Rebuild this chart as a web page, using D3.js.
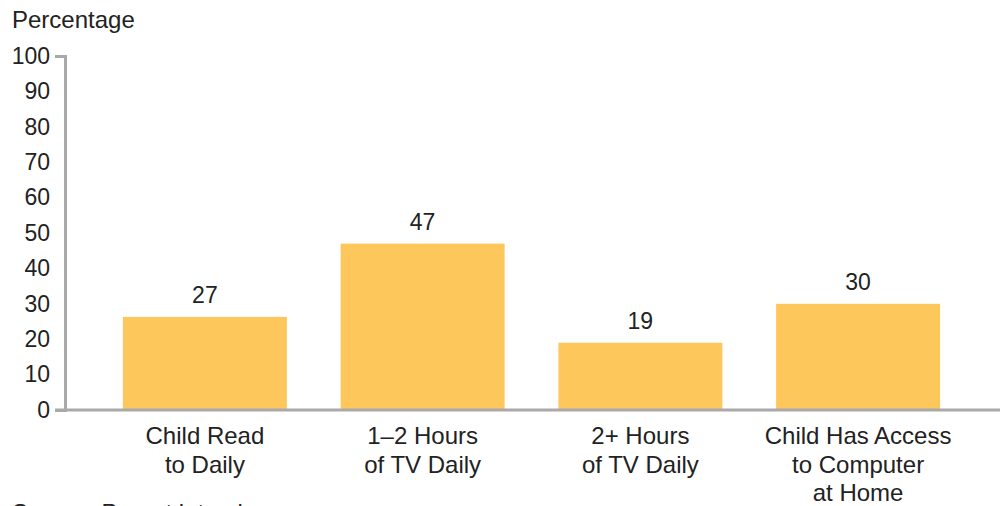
<!DOCTYPE html>
<html>
<head>
<meta charset="utf-8">
<script src="https://cdn.jsdelivr.net/npm/d3@7"></script>
<style>
  body { margin: 0; background: #fff; }
  text { font-family: "Liberation Sans", Arial, sans-serif; fill: #222; }
</style>
</head>
<body>
<script>
var categories = [
  ["Child Read", "to Daily"],
  ["1\u20132 Hours", "of TV Daily"],
  ["2+ Hours", "of TV Daily"],
  ["Child Has Access", "to Computer", "at Home"]
];
var values = [26.3, 47, 19, 30];
var valueLabels = ["27", "47", "19", "30"];
var yTicks = [0, 10, 20, 30, 40, 50, 60, 70, 80, 90, 100];

var width = 1000,
    height = 506,
    barColor = "#fdc75b",
    axisColor = "#a9a9ab";

var svg = d3.select("body").append("svg")
    .attr("width", width)
    .attr("height", height);

var xScale = d3.scaleBand()
    .domain(d3.range(categories.length))
    .range([65, 998])
    .paddingInner(0.247)
    .paddingOuter(0.266);

var yScale = d3.scaleLinear()
    .domain([0, 100])
    .range([410, 56]);

// y axis: no inner ticks, outer ticks at 0 and 100
var yAxis = svg.append("g")
    .attr("transform", "translate(65,0)")
    .call(d3.axisLeft(yScale).tickValues(yTicks).tickSizeInner(0).tickSizeOuter(10).tickPadding(15));
yAxis.select(".domain").attr("stroke", axisColor).attr("stroke-width", 3);
yAxis.selectAll("text")
    .style("font-size", "23px")
    .attr("fill", "#222")
    .attr("font-family", null);

// bars
svg.selectAll("rect.bar")
    .data(values)
    .enter().append("rect")
    .attr("class", "bar")
    .attr("x", function(d, i) { return xScale(i); })
    .attr("y", function(d) { return yScale(d); })
    .attr("width", xScale.bandwidth())
    .attr("height", function(d) { return yScale(0) - yScale(d); })
    .attr("fill", barColor);

// baseline
svg.append("line")
    .attr("x1", 55).attr("x2", width)
    .attr("y1", yScale(0)).attr("y2", yScale(0))
    .attr("stroke", axisColor)
    .attr("stroke-width", 3);

// value labels
svg.selectAll("text.val")
    .data(values)
    .enter().append("text")
    .attr("class", "val")
    .attr("x", function(d, i) { return xScale(i) + xScale.bandwidth() / 2; })
    .attr("y", function(d) { return yScale(d) - 14; })
    .attr("text-anchor", "middle")
    .style("font-size", "23px")
    .text(function(d, i) { return valueLabels[i]; });

// category labels
var cat = svg.selectAll("text.cat")
    .data(categories)
    .enter().append("text")
    .attr("class", "cat")
    .attr("text-anchor", "middle")
    .style("font-size", "24px")
    .attr("transform", function(d, i) {
      return "translate(" + (xScale(i) + xScale.bandwidth() / 2) + ",444)";
    });
cat.selectAll("tspan")
    .data(function(d) { return d; })
    .enter().append("tspan")
    .attr("x", 0)
    .attr("y", function(d, j) { return j * 28.5; })
    .text(function(d) { return d; });

// axis title
svg.append("text")
    .attr("x", 12)
    .attr("y", 28)
    .style("font-size", "24px")
    .text("Percentage");

// source note (cut off at bottom edge, as in the original)
svg.append("text")
    .attr("x", 12)
    .attr("y", 521)
    .style("font-size", "24px")
    .text("Source: Parent interviews.");
</script>
</body>
</html>
